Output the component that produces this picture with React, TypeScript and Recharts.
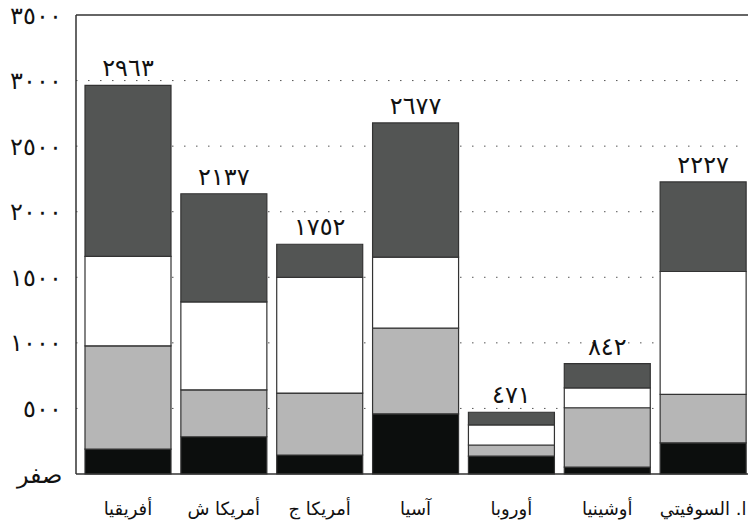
import { BarChart, Bar, XAxis, YAxis, CartesianGrid, ReferenceLine, LabelList } from 'recharts';

const regions = ['أفريقيا', 'أمريكا ش', 'أمريكا ج', 'آسيا', 'أوروبا', 'أوشينيا', 'ا. السوفيتي'];
const blackPart = [190, 284, 145, 459, 137, 53, 238];
const grayPart = [787, 358, 472, 653, 84, 452, 369];
const whitePart = [683, 670, 883, 541, 154, 152, 937];
const darkPart = [1303, 825, 252, 1024, 96, 185, 683];
const totals = [2963, 2137, 1752, 2677, 471, 842, 2227];
const yTicks = [0, 500, 1000, 1500, 2000, 2500, 3000, 3500];
const zeroLabel = 'صفر';

const arabicDigits = '٠١٢٣٤٥٦٧٨٩';
const toArabic = (n: number) =>
  String(n)
    .split('')
    .map((d) => arabicDigits[Number(d)])
    .join('');

const data = regions.map((name, i) => ({
  name,
  a: blackPart[i],
  b: grayPart[i],
  c: whitePart[i],
  d: darkPart[i],
  total: toArabic(totals[i]),
}));

const edge = '#333';

export default function App() {
  return (
    <div
      style={{
        position: 'fixed',
        top: 0,
        left: 0,
        width: 748,
        height: 529,
        overflow: 'hidden',
        background: '#fff',
        fontFamily: '"DejaVu Sans", sans-serif',
      }}
    >
      <BarChart
        width={751}
        height={529}
        data={data}
        barSize={86}
        margin={{ top: 15, right: 0, left: 0, bottom: 15 }}
      >
        <CartesianGrid
          vertical={false}
          stroke="#555"
          strokeDasharray="1.5 10.5"
          horizontalValues={[500, 1000, 1500, 2000, 2500, 3000]}
        />
        <XAxis
          dataKey="name"
          padding={{ left: 4, right: 0 }}
          height={40}
          tickLine={false}
          tickSize={0}
          tickMargin={28}
          axisLine={{ stroke: edge, strokeWidth: 1.5 }}
          tick={{ fill: '#111', fontSize: 18 }}
        />
        <YAxis
          domain={[0, 3500]}
          ticks={yTicks}
          width={76}
          tickLine={false}
          tickSize={0}
          tickMargin={14}
          axisLine={{ stroke: edge, strokeWidth: 1.5 }}
          tick={{ fill: '#111', fontSize: 24, fontWeight: 300, letterSpacing: 2 }}
          tickFormatter={(v: number) => (v === 0 ? zeroLabel : toArabic(v))}
        />
        <ReferenceLine y={3500} stroke={edge} strokeWidth={1.5} />
        <Bar dataKey="a" stackId="s" fill="#0c0e0d" stroke={edge} strokeWidth={1.2} isAnimationActive={false} />
        <Bar dataKey="b" stackId="s" fill="#b6b6b6" stroke={edge} strokeWidth={1.2} isAnimationActive={false} />
        <Bar dataKey="c" stackId="s" fill="#ffffff" stroke={edge} strokeWidth={1.2} isAnimationActive={false} />
        <Bar dataKey="d" stackId="s" fill="#535554" stroke={edge} strokeWidth={1.2} isAnimationActive={false}>
          <LabelList
            dataKey="total"
            position="top"
            offset={9}
            fill="#111"
            fontSize={24}
            letterSpacing={2}
          />
        </Bar>
      </BarChart>
    </div>
  );
}
